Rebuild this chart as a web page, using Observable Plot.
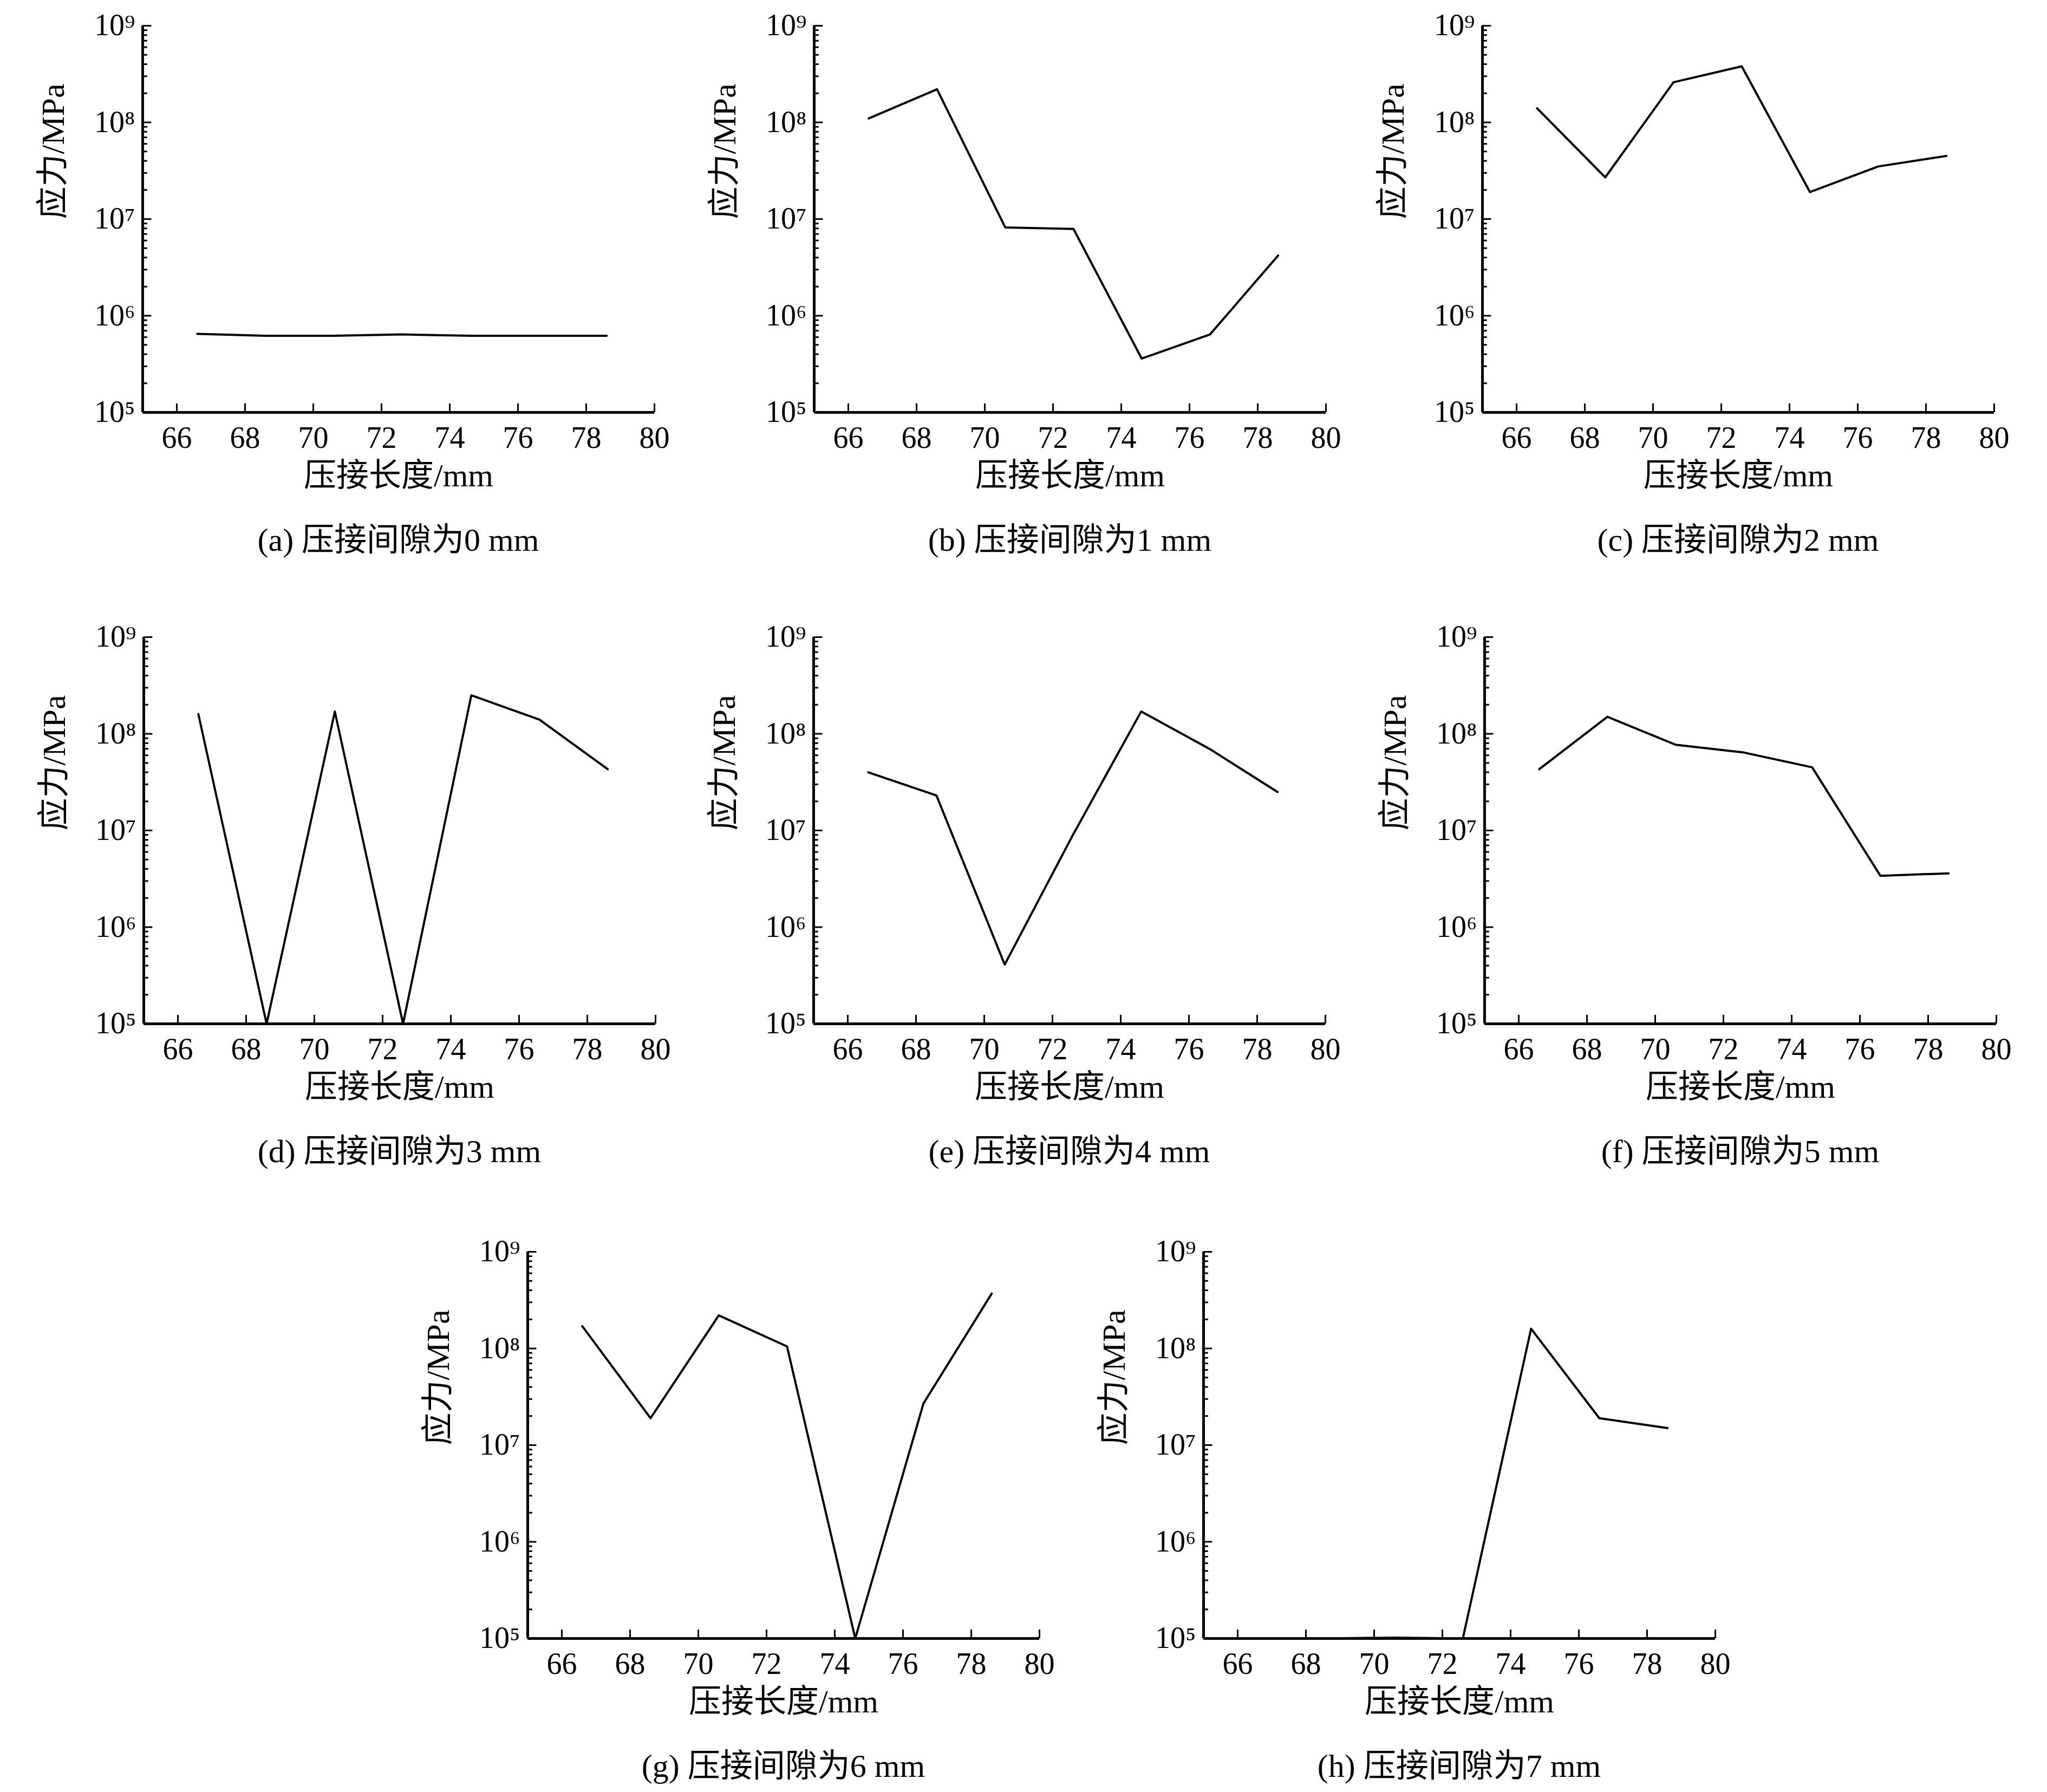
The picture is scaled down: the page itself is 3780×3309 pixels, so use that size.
<!DOCTYPE html>
<html><head><meta charset="utf-8">
<script src="https://cdn.jsdelivr.net/npm/d3@7"></script>
<script src="https://cdn.jsdelivr.net/npm/@observablehq/plot@0.6"></script>
<style>
body{margin:0;background:#fff;width:3780px;height:3309px;position:relative;overflow:hidden;font-family:"Liberation Serif","Noto Sans CJK SC",serif;}
.panel{position:absolute;}
.cap{position:absolute;text-align:center;font-size:60px;line-height:112px;color:#000;}
</style></head><body>
<script>
const lengths = [66.6, 68.6, 70.6, 72.6, 74.6, 76.6, 78.6];
const gap0 = [6.5e5, 6.2e5, 6.2e5, 6.4e5, 6.2e5, 6.2e5, 6.2e5];
const gap1 = [1.1e8, 2.2e8, 8.2e6, 7.9e6, 3.6e5, 6.4e5, 4.2e6];
const gap2 = [1.4e8, 2.7e7, 2.6e8, 3.8e8, 1.9e7, 3.5e7, 4.5e7];
const gap3 = [1.6e8, 1e5, 1.7e8, 1e5, 2.5e8, 1.4e8, 4.3e7];
const gap4 = [4e7, 2.3e7, 4.1e5, 9e6, 1.7e8, 7e7, 2.5e7];
const gap5 = [4.3e7, 1.5e8, 7.7e7, 6.4e7, 4.5e7, 3.4e6, 3.6e6];
const gap6 = [1.7e8, 1.9e7, 2.2e8, 1.05e8, 1e5, 2.7e7, 3.7e8];
const gap7 = [1e5, 1e5, 1.02e5, 1e5, 1.6e8, 1.9e7, 1.5e7];
const captions = ["(a) 压接间隙为0 mm","(b) 压接间隙为1 mm","(c) 压接间隙为2 mm","(d) 压接间隙为3 mm","(e) 压接间隙为4 mm","(f) 压接间隙为5 mm","(g) 压接间隙为6 mm","(h) 压接间隙为7 mm"];
const xTicks = [66, 68, 70, 72, 74, 76, 78, 80];
const yTicks = [1e5, 1e6, 1e7, 1e8, 1e9];
const yTickLabels = ["10⁵","10⁶","10⁷","10⁸","10⁹"];
const xLabel = "压接长度/mm";
const yLabel = "应力/MPa";

const series = [gap0,gap1,gap2,gap3,gap4,gap5,gap6,gap7];
// plot-area top-left corners
const origins = [[263,47],[1503,47],[2737,47],[265,1176],[1502,1176],[2741,1176],[974,2311],[2222,2311]];
const ML=260, MT=30, MR=70, MB=180, PW=945, PH=714;
const minor = [];
for (let e=5;e<9;e++) for (let k=2;k<=9;k++) minor.push(k*Math.pow(10,e));

series.forEach((vals,i)=>{
  const data = lengths.map((x,j)=>({x, y: vals[j]}));
  const chart = Plot.plot({
    width: ML+PW+MR, height: MT+PH+MB,
    marginLeft: ML, marginTop: MT, marginRight: MR, marginBottom: MB,
    style: {fontSize: "56px", fontFamily: '"Liberation Serif","Noto Sans CJK SC",serif', color:"#000", background:"transparent", overflow:"visible"},
    x: {domain: [65, 80], ticks: xTicks, tickSize: 0, tickPadding: 26, label: null},
    y: {type: "log", domain: [1e5, 1e9], ticks: yTicks, tickSize: 0, tickPadding: 14,
        tickFormat: d => yTickLabels[yTicks.indexOf(d)], label: null},
    marks: [
      Plot.ruleY(minor, {y: d=>d, x1: 65, x2: 65.14, stroke: "#000", strokeWidth: 3}),
      Plot.ruleY(yTicks, {y: d=>d, x1: 65, x2: 65.26, stroke: "#000", strokeWidth: 3}),
      Plot.ruleX(xTicks, {x: d=>d, y1: 1e5, y2: 1.23e5, stroke: "#000", strokeWidth: 3}),
      Plot.line(data, {x: "x", y: "y", stroke: "#000", strokeWidth: 4, clip: false}),
      Plot.ruleX([65], {stroke: "#000", strokeWidth: 5}),
      Plot.ruleY([1e5], {stroke: "#000", strokeWidth: 5}),
      Plot.text([xLabel], {text: d=>d, frameAnchor: "bottom", dy: 136, fontSize: 60}),
      Plot.text([yLabel], {text: d=>d, frameAnchor: "left", rotate: -90, dx: -165, fontSize: 60})
    ]
  });
  const [ox, oy] = origins[i];
  const div = document.createElement("div");
  div.className = "panel";
  div.style.left = (ox-ML)+"px"; div.style.top = (oy-MT)+"px";
  div.appendChild(chart);
  document.body.appendChild(div);
  const cap = document.createElement("div");
  cap.className = "cap";
  cap.textContent = captions[i];
  cap.style.left = ox+"px"; cap.style.width = PW+"px";
  cap.style.top = (oy+PH+180)+"px";
  document.body.appendChild(cap);
});
</script>
</body></html>
